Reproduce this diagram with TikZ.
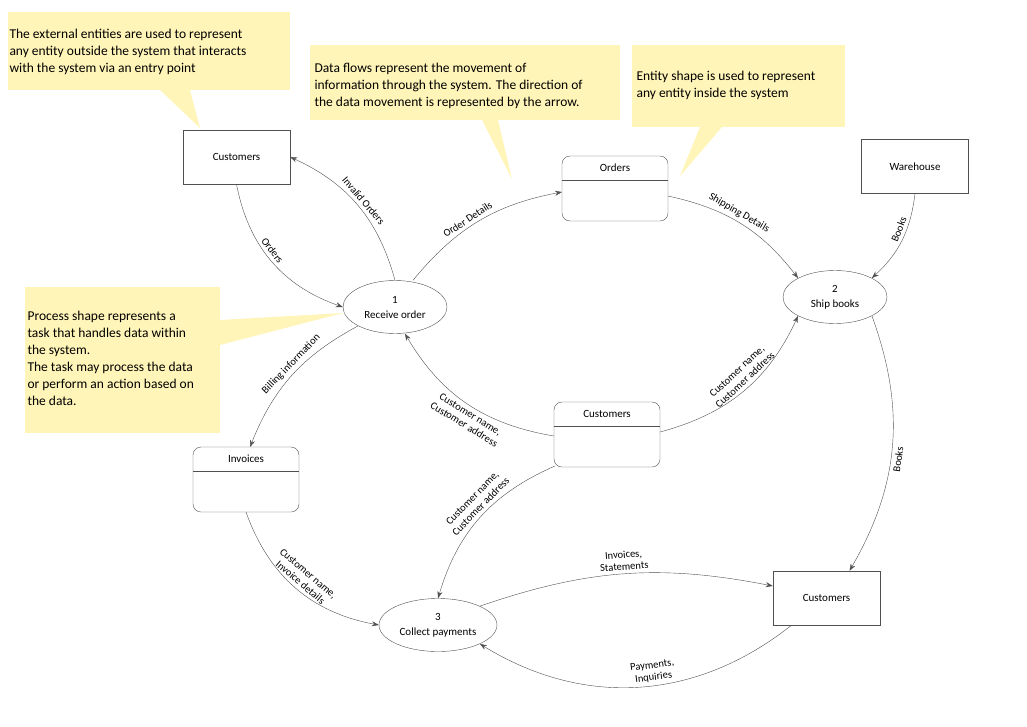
\documentclass[tikz,border=0pt]{standalone}
\usepackage{fontspec}
\setmainfont{Carlito}
\usetikzlibrary{shapes.geometric,arrows.meta}
\definecolor{notebg}{HTML}{FFF5B8}
\definecolor{linegray}{HTML}{505050}

\tikzset{
    entity/.style={draw=linegray, minimum width=107pt, minimum height=54pt, font=\fontsize{11}{13}\selectfont},
    process/.style={draw=linegray, ellipse, minimum width=104pt, minimum height=53pt, align=center, font=\fontsize{11}{15}\selectfont},
    flow/.style={draw=linegray, -{Stealth[length=7pt,width=5pt]}},
    lbl/.style={sloped, font=\fontsize{10.5}{12}\selectfont, align=center, text=black, inner sep=3.5pt},
    note/.style={fill=notebg, draw=none},
    notetext/.style={anchor=north west, align=left, font=\fontsize{13.5}{17}\selectfont}
}

\newcommand{\store}[4]{% name, x1, y1 (top left), label
    \draw[draw=linegray, rounded corners=8pt] (#2,-#3) rectangle ++(106,-65);
    \draw[draw=linegray] (#2,-#3-24) -- ++(106,0);
    \node[font=\fontsize{11}{13}\selectfont] at (#2+53,-#3-12) {#4};
    \coordinate (#1) at (#2+53,-#3-32);
}

\begin{document}
\begin{tikzpicture}[x=1pt, y=1pt]
    \useasboundingbox (0,0) rectangle (1027,-726);

    % callouts
    \fill[note] (8,-12) rectangle (290,-90);
    \fill[note] (160,-90) -- (200,-128) -- (190,-90) -- cycle;
    \node[notetext] at (6,-26) {The external entities are used to represent\\any entity outside the system that interacts\\with the system via an entry point};

    \fill[note] (310,-45) rectangle (620,-120);
    \fill[note] (482,-120) -- (512,-179) -- (498,-120) -- cycle;
    \node[notetext] at (311,-60) {Data flows represent the movement of\\information through the system. The direction of\\the data movement is represented by the arrow.};

    \fill[note] (632,-45) rectangle (845,-127);
    \fill[note] (700,-127) -- (680,-176) -- (722,-127) -- cycle;
    \node[notetext] at (633,-68) {Entity shape is used to represent\\any entity inside the system};

    \fill[note] (25,-287) rectangle (220,-433);
    \fill[note] (220,-320) -- (343,-313) -- (220,-345) -- cycle;
    \node[notetext] at (24,-308) {Process shape represents a\\task that handles data within\\the system.\\The task may process the data\\or perform an action based on\\the data.};

    % entities and processes
    \node[entity] (cust1) at (236.5,-157) {Customers};
    \node[entity] (wareh) at (915,-166.5) {Warehouse};
    \node[entity] (cust2) at (826.5,-598) {Customers};
    \node[process] (recv) at (395,-307) {1\\Receive order};
    \node[process] (ship) at (835,-297) {2\\Ship books};
    \node[process] (coll) at (438,-625) {3\\Collect payments};
    \store{ordS}{562}{156}{Orders}
    \store{custS}{554}{402}{Customers}
    \store{invS}{193}{447}{Invoices}

    % flows
    \draw[flow] (cust1.south) to[bend right=30] node[lbl, above, pos=.45] {Orders} (recv.west);
    \draw[flow] (recv.north) to[bend right=25] node[lbl, above, pos=.5] {Invalid Orders} (cust1.east);
    \draw[flow] ([xshift=18pt]recv.north) to[bend left=20] node[lbl, above, pos=.45] {Order Details} (562,-192);
    \draw[flow] (668,-196) to[bend left=20] node[lbl, above, pos=.45] {Shipping Details} (ship.north west);
    \draw[flow] (wareh.south) to[bend left=20] node[lbl, above, pos=.4] {Books} (ship.north east);
    \draw[flow] (ship.south east) to[bend left=25] node[lbl, below, pos=.55] {Books} ([xshift=23pt]cust2.north);
    \draw[flow] (554,-436) to[bend left=25] node[lbl, below, pos=.45] {Customer name,\\Customer address} ([xshift=10pt]recv.south);
    \draw[flow] (660,-432) to[bend right=25] node[lbl, above, pos=.55] {Customer name,\\Customer address} (ship.south west);
    \draw[flow] (555,-466) to[bend right=25] node[lbl, above, pos=.45] {Customer name,\\Customer address} (coll.north);
    \draw[flow] (recv.south west) to[bend right=20] node[lbl, above, pos=.45] {Billing information} (250,-447);
    \draw[flow] (246,-512) to[bend right=30] node[lbl, above, pos=.5] {Customer name,\\Invoice details} (coll.west);
    \draw[flow] (coll.north east) to[bend left=15] node[lbl, above, pos=.5] {Invoices,\\Statements} ([yshift=12pt]cust2.west);
    \draw[flow] ([xshift=-35pt]cust2.south) to[bend left=35] node[lbl, above, pos=.45] {Payments,\\Inquiries} (coll.south east);
\end{tikzpicture}
\end{document}
